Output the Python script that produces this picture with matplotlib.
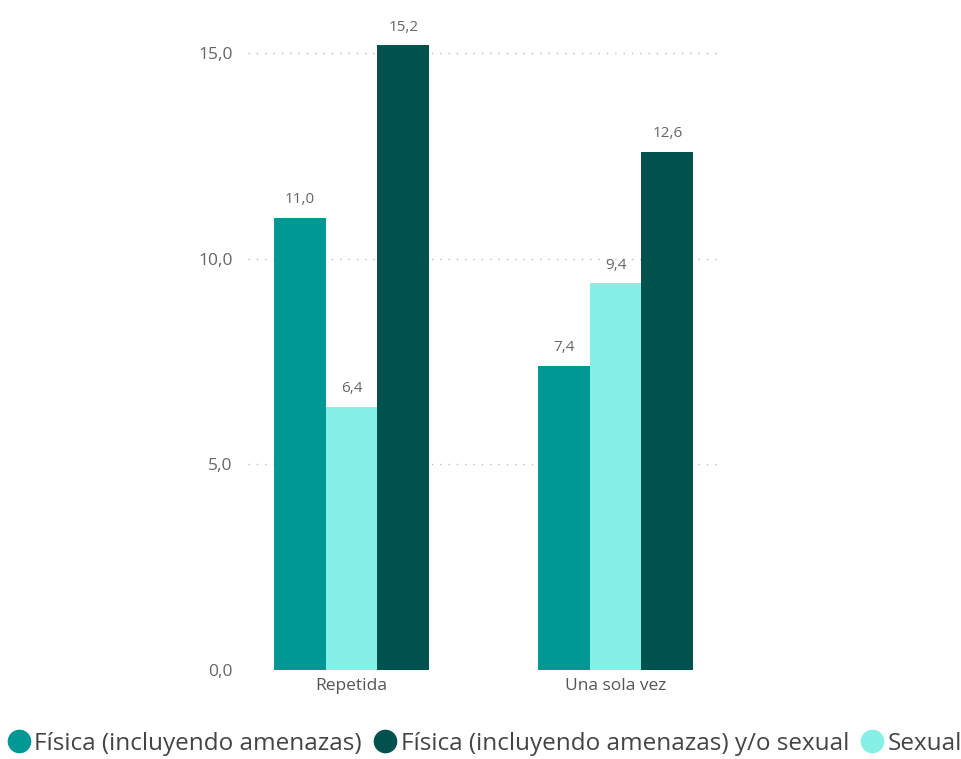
import matplotlib
matplotlib.use("Agg")
import matplotlib.pyplot as plt
from matplotlib.lines import Line2D
import numpy as np

categories = ["Repetida", "Una sola vez"]
series_names = ["Física (incluyendo amenazas)", "Sexual", "Física (incluyendo amenazas) y/o sexual"]
fisica = [11.0, 7.4]
sexual = [6.4, 9.4]
fisica_sexual = [15.2, 12.6]
yticks = [0, 5, 10, 15]

colors = ["#009894", "#86F0E6", "#01524F"]
plt.rcParams['font.family'] = ['Open Sans', 'DejaVu Sans']

fig = plt.figure(figsize=(9.61, 7.59), dpi=100)
ax = fig.add_axes([248/961, 89/759, (722-248)/961, 16*41.13/759])

x = np.arange(len(categories))
w = 0.196
for i, (vals, c) in enumerate(zip([fisica, sexual, fisica_sexual], colors)):
    pos = x + (i - 1) * w
    ax.bar(pos, vals, width=w, color=c, zorder=3)
    for p, v in zip(pos, vals):
        ax.text(p, v + 0.25, f"{v:.1f}".replace(".", ","), ha="center", va="bottom",
                fontsize=11, color="#666666")

ax.set_xlim(-0.392, 1.403)
ax.set_ylim(0, 16)
ax.set_yticks(yticks)
ax.set_yticklabels([f"{t:.1f}".replace(".", ",") for t in yticks], fontsize=12.5, color="#666666")
ax.set_xticks(x)
ax.set_xticklabels(categories, fontsize=12.5, color="#555555")
ax.tick_params(axis="y", length=0, pad=11)
ax.tick_params(axis="x", length=0, pad=6)
ax.grid(axis="y", linestyle=(0, (1, 5)), color="#BBBBBB", linewidth=1, zorder=0)
for s in ax.spines.values():
    s.set_visible(False)

handles = [Line2D([], [], marker="o", linestyle="", markersize=16, color=colors[0]),
           Line2D([], [], marker="o", linestyle="", markersize=16, color=colors[2]),
           Line2D([], [], marker="o", linestyle="", markersize=16, color=colors[1])]
labels = ["Física (incluyendo amenazas)", "Física (incluyendo amenazas) y/o sexual", "Sexual"]
fig.legend(handles, labels, loc="center left", bbox_to_anchor=(0.008, 15/759), ncol=3,
           frameon=False, fontsize=17.5, handletextpad=0.2, columnspacing=0.5,
           handlelength=0.9, labelcolor="#444444", borderaxespad=0, borderpad=0)

fig.savefig("out.png", dpi=100)
